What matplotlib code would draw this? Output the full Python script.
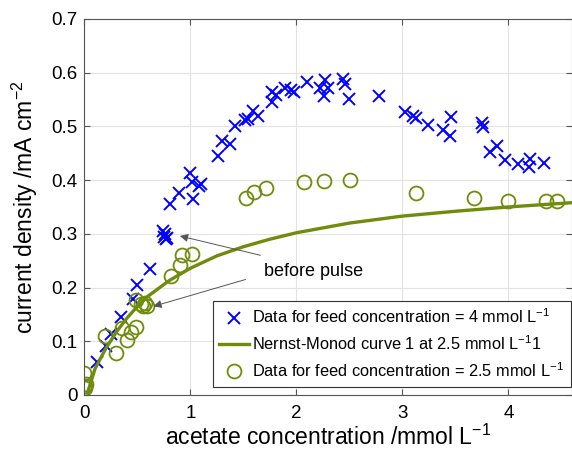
import matplotlib
matplotlib.use('Agg')
import matplotlib.pyplot as plt

plt.rcParams['font.family'] = ['Liberation Sans', 'DejaVu Sans']
plt.rcParams['mathtext.default'] = 'regular'
plt.rcParams['axes.unicode_minus'] = False

# 4 mmol/L feed data (blue crosses)
x_feed4 = [0.12, 0.20, 0.25, 0.34, 0.46, 0.50, 0.62,
           0.74, 0.75, 0.76, 0.77, 0.78, 0.81, 0.89, 0.995, 1.01, 1.02, 1.08, 1.10,
           1.26, 1.30, 1.37, 1.42, 1.51, 1.54, 1.59, 1.64, 1.77, 1.77, 1.81,
           1.89, 1.95, 1.98, 2.10, 2.22, 2.26, 2.27, 2.30, 2.44, 2.46, 2.50,
           2.78, 3.02, 3.10, 3.13, 3.24, 3.38, 3.45, 3.46, 3.75, 3.76, 3.83,
           3.89, 3.97, 4.09, 4.19, 4.20, 4.34]
y_feed4 = [0.061, 0.092, 0.113, 0.145, 0.178, 0.205, 0.234,
           0.305, 0.295, 0.300, 0.290, 0.292, 0.355, 0.376, 0.413, 0.396, 0.364, 0.389, 0.392,
           0.444, 0.473, 0.467, 0.500, 0.511, 0.514, 0.528, 0.520, 0.545, 0.564, 0.558,
           0.571, 0.567, 0.564, 0.583, 0.571, 0.556, 0.586, 0.571, 0.589, 0.579, 0.551,
           0.556, 0.527, 0.520, 0.515, 0.503, 0.493, 0.483, 0.517, 0.506, 0.498, 0.452,
           0.464, 0.438, 0.430, 0.424, 0.439, 0.431]

# 2.5 mmol/L feed data (green circles)
x_feed25 = [0.0, 0.005, 0.005, 0.01, 0.19, 0.30, 0.35, 0.40, 0.44, 0.49, 0.49,
            0.53, 0.55, 0.57, 0.59, 0.82, 0.90, 0.92, 1.01,
            1.52, 1.60, 1.71, 2.07, 2.26, 2.51, 3.13, 3.68, 4.00, 4.35, 4.46]
y_feed25 = [0.040, 0.016, 0.012, 0.020, 0.109, 0.078, 0.124, 0.103, 0.118, 0.126, 0.177,
            0.170, 0.165, 0.172, 0.166, 0.222, 0.242, 0.260, 0.262,
            0.366, 0.378, 0.385, 0.397, 0.399, 0.400, 0.376, 0.367, 0.362, 0.361, 0.361]

# Nernst-Monod curve
x_curve = [0.03, 0.1, 0.2, 0.3, 0.4, 0.5, 0.6, 0.8, 1.0, 1.25, 1.5, 1.75,
           2.0, 2.5, 3.0, 3.5, 4.0, 4.6]
y_curve = [0.005, 0.049, 0.086, 0.117, 0.143, 0.165, 0.184, 0.213, 0.236, 0.259,
           0.276, 0.290, 0.302, 0.320, 0.333, 0.342, 0.350, 0.358]

blue = '#0000ff'
green = '#6f8c0c'

fig = plt.figure(figsize=(5.72, 4.63), dpi=100)
ax = fig.add_axes([0.1477, 0.147, 0.8523, 0.812])

ax.plot(x_feed4, y_feed4, 'x', color=blue, markersize=9, markeredgewidth=1.4,
        label='Data for feed concentration = 4 mmol L$^{-1}$')
ax.plot(x_curve, y_curve, '-', color=green, linewidth=2.4,
        label='Nernst-Monod curve 1 at 2.5 mmol L$^{-1}$1')
ax.plot(x_feed25, y_feed25, 'o', color=green, markerfacecolor='none', markersize=10,
        markeredgewidth=1.3, label='Data for feed concentration = 2.5 mmol L$^{-1}$')

ax.annotate('', xy=(0.90, 0.296), xytext=(1.66, 0.260),
            arrowprops=dict(arrowstyle='-|>', color='#555555', lw=0.7,
                            mutation_scale=12, shrinkA=0, shrinkB=0))
ax.annotate('', xy=(0.65, 0.165), xytext=(1.52, 0.215),
            arrowprops=dict(arrowstyle='-|>', color='#555555', lw=0.7,
                            mutation_scale=12, shrinkA=0, shrinkB=0))
ax.text(1.69, 0.23, 'before pulse', fontsize=13, va='center', ha='left')

ax.set_xlim(0, 4.6)
ax.set_ylim(0, 0.7)
ax.set_xticks([0, 1, 2, 3, 4])
ax.set_yticks([0, 0.1, 0.2, 0.3, 0.4, 0.5, 0.6, 0.7])
ax.set_yticklabels(['0', '0.1', '0.2', '0.3', '0.4', '0.5', '0.6', '0.7'])
ax.tick_params(direction='in', labelsize=13.5, top=True, right=True, length=4,
               color='#555555')
ax.tick_params(axis='y', pad=5)
ax.tick_params(axis='x', pad=7)
ax.grid(True, color='#e3e3e3', linewidth=0.8)
ax.set_axisbelow(True)
for s in ax.spines.values():
    s.set_color('#555555')
    s.set_linewidth(0.8)

ax.set_xlabel('acetate concentration /mmol L$^{-1}$', fontsize=16.5)
ax.set_ylabel('current density /mA cm$^{-2}$', fontsize=16.5)
ax.yaxis.set_label_coords(-0.092, 0.5)
ax.xaxis.set_label_coords(0.5, -0.08)

leg = ax.legend(loc='lower right', fontsize=11.8, frameon=True, fancybox=False,
                edgecolor='#333333', framealpha=1, borderpad=0.4,
                labelspacing=0.5, handlelength=1.8, handletextpad=0.2,
                borderaxespad=0, bbox_to_anchor=(0.997, 0.022))
leg.get_frame().set_linewidth(0.8)

fig.savefig('out.png', dpi=100)
